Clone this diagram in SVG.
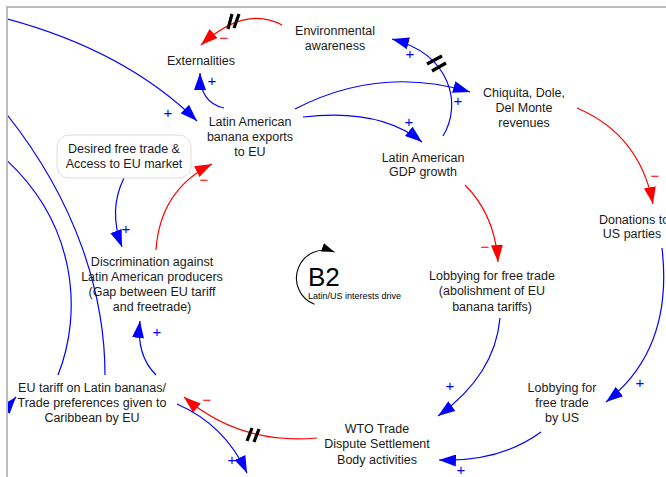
<svg xmlns="http://www.w3.org/2000/svg" width="666" height="477" viewBox="0 0 666 477">
<defs>
<marker id="aB" markerUnits="userSpaceOnUse" markerWidth="17" markerHeight="12" refX="17" refY="6" orient="auto" viewBox="0 0 17 12"><path d="M0,0 L17,6 L0,12 z" fill="#0000ff"/></marker>
<marker id="aR" markerUnits="userSpaceOnUse" markerWidth="17" markerHeight="12" refX="17" refY="6" orient="auto" viewBox="0 0 17 12"><path d="M0,0 L17,6 L0,12 z" fill="#ff0000"/></marker>
<marker id="aK" markerUnits="userSpaceOnUse" markerWidth="13" markerHeight="9" refX="13" refY="4.5" orient="auto" viewBox="0 0 13 9"><path d="M0,0 L13,4.5 L0,9 z" fill="#000"/></marker>
<clipPath id="frame"><rect x="7" y="7" width="670" height="480"/></clipPath>
</defs>
<style>
text{font-family:"Liberation Sans",Arial,sans-serif;}
.n text{font-size:12.5px;fill:#1a1a1a;text-anchor:middle;}
.b{fill:none;stroke:#0000ff;stroke-width:1.2;}
.r{fill:none;stroke:#ff0000;stroke-width:1.2;}
.bb{marker-end:url(#aB);}
.rr{marker-end:url(#aR);}
.p{font-size:15px;fill:#0000ff;text-anchor:middle;}
.m{font-size:15px;fill:#ff0000;text-anchor:middle;}
.d line{stroke:#000;stroke-width:3.2;stroke-linecap:butt;}
</style>
<rect width="666" height="477" fill="#fff"/>

<g id="connectors" clip-path="url(#frame)">
<path class="r rr" d="M282,25 Q245,5 201,45"/>
<path class="b bb" d="M224,108 Q200,103 200,73"/>
<path class="b bb" d="M0,17 C70,35 140,65 197,121"/>
<path class="b bb" d="M124,178 Q108,210 122,247"/>
<path class="r rr" d="M156,250 Q160,190 212,164"/>
<path class="b bb" d="M156,375 Q136,355 140,321"/>
<path class="r rr" d="M317,438 Q240,445 184,397"/>
<path class="b bb" d="M177,404 Q225,425 247,473"/>
<path class="b bb" d="M295,109 Q380,65 470,92"/>
<path class="b bb" d="M303,117 Q380,108 422,142"/>
<path class="b bb" d="M443,136 C462,105 452,55 392,39"/>
<path class="r rr" d="M577,108 Q640,135 653,204"/>
<path class="r rr" d="M465,185 Q495,215 498,262"/>
<path class="b bb" d="M662,248 C668,300 660,360 606,402"/>
<path class="b bb" d="M500,318 Q495,375 438,416"/>
<path class="b bb" d="M541,432 Q500,462 439,460"/>
<path class="b" d="M58,375 C82,315 80,220 -5,150"/>
<path class="b" d="M105,375 C105,300 80,200 -5,100"/>
<path class="b bb" d="M-20,425 Q5,410 16,397"/>
<g class="d">
<line x1="228" y1="29" x2="232" y2="14"/><line x1="234" y1="28" x2="239" y2="14"/>
<line x1="427" y1="64" x2="442" y2="56"/><line x1="432" y1="71" x2="446" y2="63"/>
<line x1="247" y1="441" x2="252" y2="428"/><line x1="254" y1="442" x2="259" y2="429"/>
</g>
<text class="m" x="224" y="43">−</text>
<text class="p" x="212" y="86">+</text>
<text class="p" x="168" y="118">+</text>
<text class="p" x="126" y="234">+</text>
<text class="m" x="204" y="185">−</text>
<text class="p" x="157" y="337">+</text>
<text class="m" x="207" y="405">−</text>
<text class="p" x="232" y="465">+</text>
<text class="p" x="458" y="106">+</text>
<text class="p" x="409" y="127">+</text>
<text class="p" x="410" y="59">+</text>
<text class="m" x="655" y="181">−</text>
<text class="m" x="485" y="252">−</text>
<text class="p" x="640" y="388">+</text>
<text class="p" x="450" y="391">+</text>
<text class="p" x="461" y="475">+</text>
</g>

<g id="loop-B2">
<path d="M314.4,304.3 A28,28 0 1 1 334.5,252" fill="none" stroke="#000" stroke-width="1.1" marker-end="url(#aK)"/>
<text x="308" y="286" style="font-size:26px;fill:#000">B2</text>
<text x="308" y="298.5" style="font-size:9px;fill:#000">Latin/US interests drive</text>
</g>

<g id="n-env" class="n"><text x="335" y="34.5">Environmental</text><text x="335" y="49.5">awareness</text></g>
<g id="n-ext" class="n"><text x="201" y="64.5">Externalities</text></g>
<g id="n-lat" class="n"><text x="250" y="126">Latin American</text><text x="250" y="141">banana exports</text><text x="250" y="155.5">to EU</text></g>
<g id="n-chiq" class="n"><text x="524" y="96.5">Chiquita, Dole,</text><text x="524" y="111.5">Del Monte</text><text x="524" y="126.5">revenues</text></g>
<g id="n-gdp" class="n"><text x="423" y="161.5">Latin American</text><text x="423" y="175.5">GDP growth</text></g>
<g id="n-don" class="n"><text x="634" y="224">Donations to</text><text x="632" y="238">US parties</text></g>
<g id="n-des" class="n"><rect x="57" y="135" width="134" height="43" rx="12" fill="#fff" stroke="#dcdcdc" stroke-width="1"/><text x="124" y="152.5">Desired free trade &amp;</text><text x="124" y="167.5">Access to EU market</text></g>
<g id="n-disc" class="n"><text x="152" y="265.5">Discrimination against</text><text x="152" y="280.5">Latin American producers</text><text x="152" y="295.5">(Gap between EU tariff</text><text x="152" y="310.5">and freetrade)</text></g>
<g id="n-eu" class="n"><text x="92" y="391.5">EU tariff on Latin bananas/</text><text x="92" y="406.5">Trade preferences given to</text><text x="92" y="421.5">Caribbean by EU</text></g>
<g id="n-lob" class="n"><text x="492" y="279.5">Lobbying for free trade</text><text x="492" y="295">(abolishment of EU</text><text x="492" y="310.5">banana tariffs)</text></g>
<g id="n-lobus" class="n"><text x="562" y="391.5">Lobbying for</text><text x="562" y="406.5">free trade</text><text x="562" y="421.5">by US</text></g>
<g id="n-wto" class="n"><text x="377" y="432.5">WTO Trade</text><text x="377" y="447.5">Dispute Settlement</text><text x="377" y="463.5">Body activities</text></g>

<path d="M7,477 L7,7 L666,7" fill="none" stroke="#bdbdbd" stroke-width="2"/>
</svg>
